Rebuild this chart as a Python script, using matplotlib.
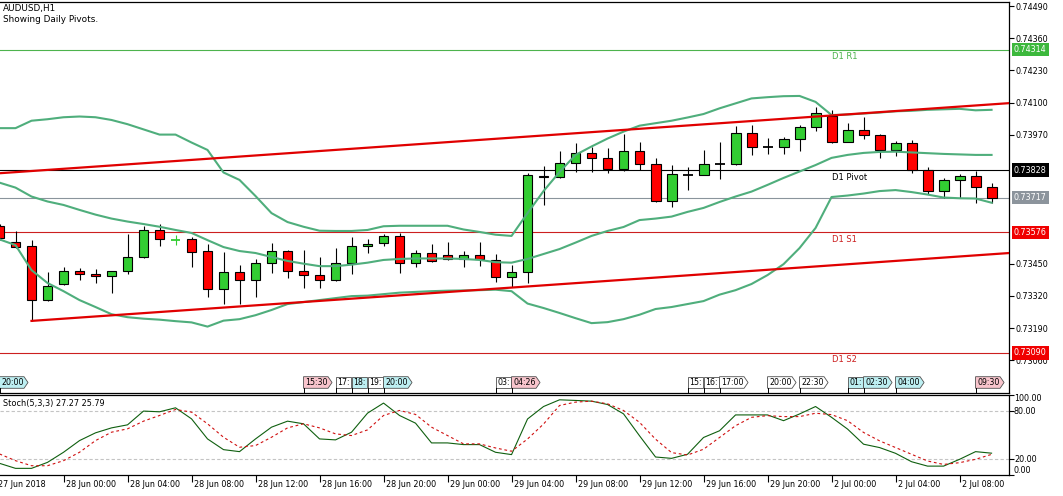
import numpy as np
import pandas as pd
import matplotlib
matplotlib.use("Agg")
import matplotlib.pyplot as plt
from matplotlib.patches import Polygon
from matplotlib.transforms import blended_transform_factory

plt.rcParams['font.family'] = ['DejaVu Sans']

# ---------------- data ----------------
symbol_text = "AUDUSD,H1"
subtitle_text = "Showing Daily Pivots."
stoch_text = "Stoch(5,3,3) 27.27 25.79"

times = (list(pd.date_range("2018-06-27 20:00", "2018-06-29 23:00", freq="h")) +
         list(pd.date_range("2018-07-02 00:00", "2018-07-02 10:00", freq="h")))

opens = [0.73602, 0.73536, 0.73520, 0.73303, 0.73366, 0.73419, 0.73407, 0.73399, 0.73419, 0.73475,
         0.73585, 0.73545, 0.73548, 0.73501, 0.73346, 0.73416, 0.73383, 0.73451, 0.73501, 0.73419,
         0.73403, 0.73383, 0.73451, 0.73522, 0.73532, 0.73560, 0.73451, 0.73492, 0.73484, 0.73467,
         0.73484, 0.73465, 0.73395, 0.73415, 0.73805, 0.73799, 0.73855, 0.73896, 0.73875, 0.73833,
         0.73904, 0.73851, 0.73702, 0.73808, 0.73807, 0.73852, 0.73851, 0.73976, 0.73922, 0.73922,
         0.73952, 0.74001, 0.74048, 0.73943, 0.73989, 0.73968, 0.73910, 0.73936, 0.73827, 0.73742,
         0.73787, 0.73803, 0.73758]
highs = [0.73610, 0.73582, 0.73545, 0.73417, 0.73438, 0.73432, 0.73427, 0.73421, 0.73570, 0.73602,
         0.73610, 0.73566, 0.73556, 0.73529, 0.73498, 0.73443, 0.73467, 0.73534, 0.73505, 0.73505,
         0.73475, 0.73512, 0.73556, 0.73548, 0.73570, 0.73575, 0.73505, 0.73529, 0.73537, 0.73501,
         0.73537, 0.73488, 0.73444, 0.73816, 0.73844, 0.73904, 0.73937, 0.73920, 0.73916, 0.73974,
         0.73941, 0.73875, 0.73848, 0.73839, 0.73909, 0.73941, 0.74006, 0.74010, 0.73956, 0.73963,
         0.74011, 0.74084, 0.74071, 0.74018, 0.74044, 0.73974, 0.73947, 0.73948, 0.73839, 0.73797,
         0.73812, 0.73825, 0.73774]
lows = [0.73545, 0.73513, 0.73219, 0.73301, 0.73365, 0.73385, 0.73373, 0.73333, 0.73407, 0.73474,
        0.73522, 0.73525, 0.73438, 0.73314, 0.73286, 0.73286, 0.73314, 0.73411, 0.73391, 0.73353,
        0.73350, 0.73382, 0.73409, 0.73492, 0.73522, 0.73411, 0.73438, 0.73455, 0.73465, 0.73438,
        0.73440, 0.73377, 0.73354, 0.73373, 0.73687, 0.73796, 0.73821, 0.73821, 0.73815, 0.73824,
        0.73828, 0.73698, 0.73680, 0.73747, 0.73806, 0.73792, 0.73847, 0.73890, 0.73892, 0.73892,
        0.73906, 0.73985, 0.73936, 0.73941, 0.73955, 0.73878, 0.73886, 0.73815, 0.73730, 0.73716,
        0.73716, 0.73694, 0.73694]
closes = [0.73552, 0.73516, 0.73303, 0.73358, 0.73419, 0.73407, 0.73399, 0.73419, 0.73475, 0.73585,
          0.73548, 0.73545, 0.73498, 0.73346, 0.73416, 0.73383, 0.73451, 0.73500, 0.73419, 0.73403,
          0.73383, 0.73451, 0.73520, 0.73530, 0.73560, 0.73451, 0.73492, 0.73459, 0.73467, 0.73484,
          0.73467, 0.73395, 0.73416, 0.73807, 0.73799, 0.73855, 0.73896, 0.73875, 0.73833, 0.73904,
          0.73851, 0.73702, 0.73811, 0.73808, 0.73851, 0.73852, 0.73976, 0.73920, 0.73922, 0.73952,
          0.74001, 0.74060, 0.73943, 0.73989, 0.73968, 0.73910, 0.73936, 0.73827, 0.73742, 0.73787,
          0.73803, 0.73758, 0.73717]

bb_upper = [0.73997, 0.73997, 0.74027, 0.74033, 0.74041, 0.74044, 0.74041, 0.74030, 0.74013, 0.73992,
            0.73971, 0.73971, 0.73939, 0.73909, 0.73818, 0.73788, 0.73723, 0.73654, 0.73618, 0.73599,
            0.73583, 0.73582, 0.73582, 0.73586, 0.73601, 0.73603, 0.73603, 0.73603, 0.73603, 0.73588,
            0.73578, 0.73567, 0.73562, 0.73654, 0.73743, 0.73820, 0.73889, 0.73923, 0.73955, 0.73983,
            0.74007, 0.74017, 0.74027, 0.74040, 0.74054, 0.74077, 0.74097, 0.74117, 0.74122, 0.74126,
            0.74127, 0.74103, 0.74050, 0.74052, 0.74056, 0.74060, 0.74065, 0.74067, 0.74071, 0.74073,
            0.74075, 0.74069, 0.74071]
bb_middle = [0.73777, 0.73757, 0.73721, 0.73701, 0.73687, 0.73667, 0.73648, 0.73632, 0.73620, 0.73610,
             0.73599, 0.73586, 0.73574, 0.73545, 0.73517, 0.73501, 0.73493, 0.73477, 0.73461, 0.73450,
             0.73440, 0.73440, 0.73446, 0.73454, 0.73465, 0.73469, 0.73471, 0.73471, 0.73471, 0.73469,
             0.73465, 0.73456, 0.73454, 0.73469, 0.73489, 0.73509, 0.73535, 0.73562, 0.73582, 0.73598,
             0.73626, 0.73632, 0.73640, 0.73659, 0.73675, 0.73699, 0.73721, 0.73741, 0.73768, 0.73796,
             0.73822, 0.73848, 0.73877, 0.73889, 0.73897, 0.73901, 0.73902, 0.73899, 0.73896, 0.73893,
             0.73891, 0.73889, 0.73889]
bb_lower = [0.73548, 0.73525, 0.73424, 0.73372, 0.73339, 0.73303, 0.73275, 0.73246, 0.73234, 0.73228,
            0.73224, 0.73218, 0.73213, 0.73196, 0.73220, 0.73226, 0.73242, 0.73263, 0.73287, 0.73295,
            0.73303, 0.73311, 0.73319, 0.73321, 0.73327, 0.73333, 0.73336, 0.73339, 0.73341, 0.73342,
            0.73343, 0.73345, 0.73339, 0.73289, 0.73271, 0.73251, 0.73230, 0.73210, 0.73214, 0.73226,
            0.73244, 0.73267, 0.73275, 0.73287, 0.73299, 0.73325, 0.73343, 0.73368, 0.73404, 0.73448,
            0.73513, 0.73594, 0.73719, 0.73725, 0.73733, 0.73743, 0.73747, 0.73739, 0.73729, 0.73717,
            0.73714, 0.73713, 0.73696]

stoch_main = [14.6, 8.3, 8.3, 15.8, 28.4, 43.0, 52.7, 58.9, 62.7, 79.9,
              79.0, 84.0, 70.2, 45.1, 31.7, 29.2, 45.1, 59.8, 67.3, 64.0,
              45.1, 43.9, 53.5, 77.3, 89.9, 74.4, 64.8, 40.1, 40.1, 38.0,
              38.0, 28.4, 25.5, 70.0, 85.6, 94.0, 93.2, 92.3, 88.1, 76.4,
              49.0, 22.5, 20.8, 25.9, 46.9, 55.3, 75.1, 75.1, 75.1, 67.9,
              76.3, 85.6, 72.1, 57.4, 38.5, 34.3, 27.1, 16.6, 11.1, 11.1,
              19.6, 29.2, 27.27]
stoch_signal = [26.3, 17.9, 11.6, 11.6, 17.9, 28.4, 43.0, 53.5, 57.7, 67.3,
                74.4, 81.9, 78.6, 64.0, 47.2, 34.7, 36.8, 47.2, 58.9, 64.0,
                58.9, 51.4, 49.3, 56.4, 74.4, 80.7, 75.7, 59.8, 49.3, 38.9,
                38.9, 33.8, 29.7, 45.0, 63.7, 86.9, 91.1, 92.3, 89.0, 80.6,
                65.8, 44.8, 28.0, 25.0, 32.2, 46.9, 61.6, 72.1, 74.2, 73.0,
                73.0, 77.2, 75.5, 67.9, 53.2, 42.7, 34.3, 25.9, 17.5, 13.2,
                15.4, 19.6, 25.79]

# trend lines: (bar index, price) anchors
trend_upper = [(0, 0.73815), (62, 0.74093)]
trend_lower = [(2, 0.73219), (62, 0.73488)]

pivot_names = ["D1 R1", "D1 Pivot", "D1 S1", "D1 S2"]
pivot_values = [0.74314, 0.73828, 0.73576, 0.73090]
pivot_colors = ["#4db34d", "#000000", "#cc1f1f", "#cc1f1f"]
pivot_box_colors = ["#3cb83c", "#000000", "#f00000", "#f00000"]
pivot_label_bar = 52
current_price = 0.73717

price_ticks = [0.74490, 0.74360, 0.74230, 0.74100, 0.73970, 0.73450, 0.73320, 0.73190, 0.73060]
stoch_ticks = [100, 80, 20, 0]

event_labels = ["20:00", "15:30", "17:", "18:", "19:", "20:00", "03:", "04:26", "15:", "16:",
                "17:00", "20:00", "22:30", "01:", "02:30", "04:00", "09:30"]
event_bars = [0, 19, 21, 22, 23, 24, 31, 32, 43, 44, 45, 48, 50, 53, 54, 56, 61]
event_kinds = ["c", "p", "w", "c", "w", "c", "w", "p", "w", "w", "w", "w", "w", "c", "c", "c", "p"]

green_cross_bars = [11]

# ---------------- figure ----------------
W, H = 1063, 496
fig = plt.figure(figsize=(W / 100, H / 100), dpi=100)
fig.patch.set_facecolor("white")

plot_right = 1009
main_top, main_bot = 1.5, 392.5
st_top, st_bot = 395.0, 475.0

ax = fig.add_axes([0, 1 - main_bot / H, plot_right / W, (main_bot - main_top) / H])
sx = fig.add_axes([0, 1 - st_bot / H, plot_right / W, (st_bot - st_top) / H], sharex=ax)

n = len(closes)
x = np.arange(n)
px_per_bar = 16.0
ax.set_xlim(0.031, 63.09)
ax.set_ylim(0.729300, 0.745082)

o = np.array(opens); h = np.array(highs); l = np.array(lows); c = np.array(closes)

# pivot lines & current price
for name, val, col in zip(pivot_names, pivot_values, pivot_colors):
    ax.axhline(val, color=col, lw=0.8, zorder=1)
    ax.annotate(name, xy=(pivot_label_bar, val), xytext=(0, -1.8), textcoords="offset points",
                ha="left", va="top", fontsize=6, color=col, zorder=7)
ax.axhline(current_price, color="#8a949c", lw=0.8, zorder=1)

# candles
bull_col, bear_col = "#32cd32", "#ff0000"
wick_cols = ["#32cd32" if i in green_cross_bars else "black" for i in range(n)]
ax.vlines(x, l, h, colors=wick_cols, lw=0.8, zorder=3)
up = c > o
dn = c < o
bw = 0.62
ax.bar(x[up], (c - o)[up], bottom=o[up], width=bw, color=bull_col, edgecolor="black", linewidth=0.8, zorder=4)
ax.bar(x[dn], (o - c)[dn], bottom=c[dn], width=bw, color=bear_col, edgecolor="black", linewidth=0.8, zorder=4)
eq = c == o
for i in x[eq]:
    col = "#32cd32" if i in green_cross_bars else "black"
    ax.hlines(c[i], i - bw / 2, i + bw / 2, colors=col, lw=1.3, zorder=4)

# Bollinger bands
bb_col = "#4fae7c"
for band in (bb_upper, bb_middle, bb_lower):
    ax.plot(x, band, color=bb_col, lw=1.5, zorder=5, solid_joinstyle="round")

# trend lines
x_right = 63.2
for (x0, p0), (x1, p1), from_left in ((trend_upper[0], trend_upper[1], True),
                                      (trend_lower[0], trend_lower[1], False)):
    slope = (p1 - p0) / (x1 - x0)
    xs = np.array([-1.0 if from_left else x0, x_right])
    ax.plot(xs, p0 + slope * (xs - x0), color="#e00000", lw=1.6, zorder=6)

# texts top-left
ax.text(3 / plot_right, 1 - (8.3 - main_top) / (main_bot - main_top), symbol_text,
        transform=ax.transAxes, fontsize=6.4, va="center", ha="left")
ax.text(3 / plot_right, 1 - (20 - main_top) / (main_bot - main_top), subtitle_text,
        transform=ax.transAxes, fontsize=6.4, va="center", ha="left")

# event time strip
trans = blended_transform_factory(ax.transData, ax.transAxes)
span = main_bot - main_top
yb = (main_bot - 388.3) / span
yt = (main_bot - 376.7) / span
ym = (yb + yt) / 2
kind_col = {"c": "#bdeff2", "p": "#f8c4cc", "w": "#ffffff"}
for lab, b, kd in zip(event_labels, event_bars, event_kinds):
    if len(lab) > 3:
        wpx = 28.5
        pts = [(b, yb), (b + (wpx - 4) / px_per_bar, yb), (b + wpx / px_per_bar, ym),
               (b + (wpx - 4) / px_per_bar, yt), (b, yt)]
    else:
        wpx = 15.0
        pts = [(b, yb), (b + wpx / px_per_bar, yb), (b + wpx / px_per_bar, yt), (b, yt)]
    poly = Polygon(pts, closed=True, transform=trans, facecolor=kind_col[kd],
                   edgecolor="#505050", lw=0.6, zorder=8, clip_on=False)
    ax.add_patch(poly)
    ax.plot([b, b], [0, yb], transform=trans, color="black", lw=0.7, zorder=8)
    ax.text(b + 1.5 / px_per_bar, ym, lab, transform=trans, fontsize=5.7, va="center",
            ha="left", zorder=9)

# price axis
ax.yaxis.tick_right()
ax.set_yticks(price_ticks)
ax.set_yticklabels(["%.5f" % v for v in price_ticks])
ax.tick_params(axis="y", length=3.5, width=0.8, labelsize=5.8, pad=1.5, colors="black")
ax.tick_params(axis="x", bottom=False, labelbottom=False)
ytr = blended_transform_factory(ax.transAxes, ax.transData)
for val, bc in zip(pivot_values, pivot_box_colors):
    ax.text(1 + 5 / plot_right, val, "%.5f" % val, transform=ytr, fontsize=5.8, color="white",
            va="center", ha="left", zorder=20, clip_on=False,
            bbox=dict(boxstyle="square,pad=0.28", fc=bc, ec="none"))
ax.text(1 + 5 / plot_right, current_price, "%.5f" % current_price, transform=ytr, fontsize=5.8,
        color="white", va="center", ha="left", zorder=20, clip_on=False,
        bbox=dict(boxstyle="square,pad=0.28", fc="#8c949c", ec="none"))

for sp in ("left",):
    ax.spines[sp].set_visible(False)
for sp in ("top", "right", "bottom"):
    ax.spines[sp].set_linewidth(0.9)

# ---------------- stochastic ----------------
sx.set_ylim(0, 100)
sx.axhline(80, color="#c4c4c4", lw=0.8, ls=(0, (3, 2)), zorder=1)
sx.axhline(20, color="#c4c4c4", lw=0.8, ls=(0, (3, 2)), zorder=1)
sx.plot(x, stoch_main, color="#0f5f0f", lw=0.8, zorder=3)
sx.plot(x, stoch_signal, color="#d01010", lw=0.8, ls=(0, (2.5, 2.5)), zorder=3)
sx.text(3 / plot_right, (st_bot - 403.5) / (st_bot - st_top), stoch_text, transform=sx.transAxes,
        fontsize=5.9, va="center", ha="left")
sx.yaxis.tick_right()
sx.set_yticks(stoch_ticks)
sx.set_yticklabels([])
sx.tick_params(axis="y", length=3.5, width=0.8)
stoch_label_offsets = {100: -3.5, 80: 0, 20: 0, 0: 4.5}
for v in stoch_ticks:
    yfrac = v / 100 + stoch_label_offsets[v] / (st_bot - st_top) * (-1 if False else 1) * 1
    sx.text(1 + 5 / plot_right, v / 100 + (-stoch_label_offsets[v] * -1) / (st_bot - st_top) * 1,
            "%.2f" % v, transform=sx.transAxes, fontsize=5.8, va="center", ha="left", clip_on=False)
sx.spines["left"].set_visible(False)
for sp in ("top", "right", "bottom"):
    sx.spines[sp].set_linewidth(0.9)

# time axis
tick_idx = [i for i, t in enumerate(times) if t.hour % 4 == 0 and i > 0]
sx.set_xticks(tick_idx)
sx.tick_params(axis="x", length=5, width=0.8, labelbottom=False, direction="out")
xtr = blended_transform_factory(sx.transData, sx.transAxes)
ylab = (st_bot - 484.5) / (st_bot - st_top)
for i in tick_idx:
    t = times[i]
    lab = "%d %s %02d:%02d" % (t.day, t.strftime("%b"), t.hour, t.minute)
    sx.text(i + 2 / px_per_bar, ylab, lab, transform=xtr, fontsize=5.8, va="center", ha="left",
            clip_on=False)
t0 = times[0]
sx.text(-1.5 / plot_right, ylab, "%d %s %d" % (t0.day, t0.strftime("%b"), t0.year),
        transform=sx.transAxes, fontsize=5.8, va="center", ha="left", clip_on=False)

fig.savefig("out.png", dpi=100)
